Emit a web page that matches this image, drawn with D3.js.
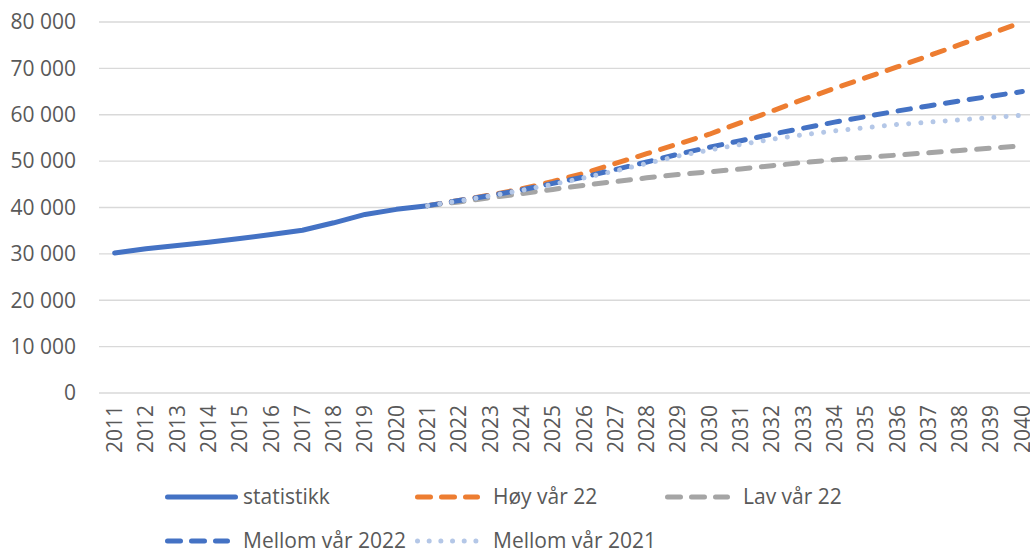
<!DOCTYPE html>
<meta charset="utf-8">
<style>
    body { margin: 0; background: #fff; }
    svg { display: block; font-family: "Open Sans", sans-serif; }
    .grid line { stroke: #d9d9d9; stroke-width: 1.3; }
    .lbl { fill: #595959; font-size: 21px; }
</style>
<svg width="1030" height="549"></svg>
<script src="https://d3js.org/d3.v7.min.js"></script>
<script>

    // data
    var years = d3.range(2011, 2041);
    var statYears = d3.range(2011, 2022);
    var projYears = d3.range(2021, 2041);

    var statistikk = [30200, 31100, 31800, 32500, 33300, 34200, 35100, 36700, 38500, 39600, 40400];
    var hoy22 = [40400, 41500, 42700, 44000, 45600, 47400, 49500, 51600, 53700, 55800,
                 58300, 60800, 63300, 65700, 68000, 70300, 72700, 75100, 77500, 80000];
    var lav22 = [40400, 41200, 42100, 43000, 43900, 44800, 45600, 46400, 47100, 47700,
                 48300, 49000, 49700, 50300, 50800, 51300, 51800, 52300, 52800, 53300];
    var mellom22 = [40400, 41500, 42600, 43800, 45200, 46600, 48200, 49800, 51500, 53000,
                    54400, 55800, 57100, 58400, 59600, 60800, 61900, 63000, 64000, 65000];
    var mellom21 = [40400, 41400, 42500, 43700, 45000, 46400, 47900, 49500, 51100, 52400,
                    53600, 54700, 55700, 56500, 57200, 57900, 58400, 58900, 59400, 59900];
    var yTicks = [0, 10000, 20000, 30000, 40000, 50000, 60000, 70000, 80000];

    var series = [
        {name: "statistikk", x: statYears, v: statistikk, color: "#4472c4", dash: null},
        {name: "Høy vår 22", x: projYears, v: hoy22, color: "#ed7d31", dash: "12.5,11.5"},
        {name: "Lav vår 22", x: projYears, v: lav22, color: "#a5a5a5", dash: "12.5,11.5"},
        {name: "Mellom vår 2022", x: projYears, v: mellom22, color: "#4472c4", dash: "12.5,11.5"},
        {name: "Mellom vår 2021", x: projYears, v: mellom21, color: "#b4c7e7", dash: "0.01,12.2"}
    ];

    var svg = d3.select("svg"),
        plotLeft = 99, plotTop = 22, plotBottom = 393, band = 31.3;

    var x = d3.scaleBand()
        .domain(years)
        .range([plotLeft, plotLeft + band * years.length]);
    var y = d3.scaleLinear()
        .domain([0, 80000])
        .range([plotBottom, plotTop]);

    var fmt = function(d) { return d3.format(",")(d).replace(/,/g, " "); };

    // gridlines
    svg.append("g").attr("class", "grid")
        .selectAll("line").data(yTicks).enter().append("line")
        .attr("x1", plotLeft).attr("x2", 1030)
        .attr("y1", function(d) { return y(d); })
        .attr("y2", function(d) { return y(d); });

    // y labels
    svg.append("g").selectAll("text").data(yTicks).enter().append("text")
        .attr("class", "lbl")
        .attr("x", 76)
        .attr("y", function(d) { return y(d); })
        .attr("dy", "0.35em")
        .attr("text-anchor", "end")
        .text(fmt);

    // x labels, rotated
    svg.append("g").selectAll("text").data(years).enter().append("text")
        .attr("class", "lbl")
        .attr("text-anchor", "end")
        .attr("dy", "0.35em")
        .attr("transform", function(d) {
            return "translate(" + (x(d) + band / 2) + "," + 405 + ") rotate(-90)";
        })
        .text(function(d) { return d; });

    var line = d3.line()
        .x(function(d) { return x(d[0]) + band / 2; })
        .y(function(d) { return y(d[1]); });

    svg.append("g").selectAll("path").data(series).enter().append("path")
        .attr("d", function(s) { return line(d3.zip(s.x, s.v)); })
        .attr("fill", "none")
        .attr("stroke", function(s) { return s.color; })
        .attr("stroke-width", 5)
        .attr("stroke-linecap", "round")
        .attr("stroke-linejoin", "round")
        .attr("stroke-dasharray", function(s) { return s.dash; });

    // legend: two rows of three columns
    var legCols = [165, 415, 665], legRows = [497, 541];
    var leg = svg.append("g").selectAll("g").data(series).enter().append("g")
        .attr("transform", function(d, i) {
            return "translate(" + [legCols[i % 3], legRows[Math.floor(i / 3)]] + ")";
        });
    leg.append("line")
        .attr("x1", 2.5)
        .attr("x2", function(d, i) { return i === 0 ? 70.5 : 62.5; })
        .attr("stroke", function(s) { return s.color; })
        .attr("stroke-width", 5)
        .attr("stroke-linecap", "round")
        .attr("stroke-dasharray", function(s, i) {
            if (i === 0) return null;
            return s.dash === "0.01,12.2" ? "0.01,11.67" : "13,11";
        });
    leg.append("text")
        .attr("class", "lbl")
        .attr("x", 78)
        .attr("dy", "0.35em")
        .text(function(s) { return s.name; });

</script>
